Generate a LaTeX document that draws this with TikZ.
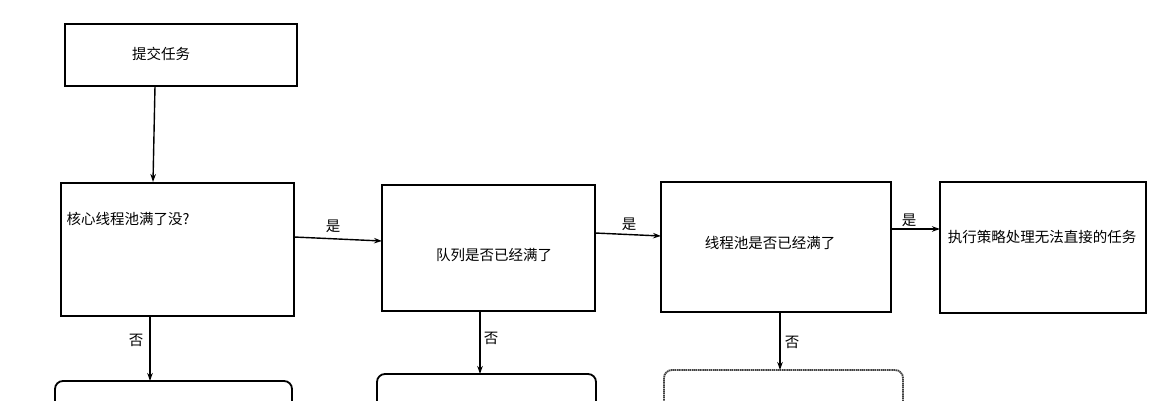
\documentclass[tikz,border=0pt]{standalone}
\usepackage{fontspec}
\setmainfont{Noto Sans CJK SC}
\usetikzlibrary{arrows.meta}
\begin{document}
\begin{tikzpicture}[x=1pt,y=-1pt,
  box/.style={draw,line width=1.8pt},
  rbox/.style={draw,line width=1.8pt,rounded corners=8pt},
  gbox/.style={draw=black!75,line width=1.8pt,dash pattern=on 1.5pt off 0.6pt,rounded corners=8pt},
  arr/.style={draw,line width=1.4pt,-{Stealth[length=8pt,width=5.5pt]}},
  txt/.style={font=\fontsize{14.5}{17}\selectfont,inner sep=0pt}]
\useasboundingbox (0,0) rectangle (1169,400);
\fill[white] (0,0) rectangle (1169,400);
\draw[box] (65,24) rectangle (297,86);
\draw[box] (61,183) rectangle (294,316);
\draw[box] (382,185) rectangle (595,311);
\draw[box] (661,182) rectangle (891,312);
\draw[box] (940,182) rectangle (1146,313);
\draw[rbox] (55,381) rectangle (292,430);
\draw[rbox] (377,374) rectangle (596,430);
\draw[gbox] (664,370) rectangle (903,430);
\node[txt] (t1) at (161,54) {提交任务};
\node[txt] (t2) at (128,219) {核心线程池满了没?};
\node[txt] (t3) at (494,255) {队列是否已经满了};
\node[txt] (t4) at (770,243) {线程池是否已经满了};
\node[txt] (t5) at (1042,237) {执行策略处理无法直接的任务};
\coordinate (a1) at (155,86); \coordinate (b1) at (153,182);
\draw[arr] (a1) -- (b1);
\coordinate (a2) at (294,237); \coordinate (b2) at (382,241);
\draw[arr] (a2) -- (b2);
\coordinate (a3) at (595,233); \coordinate (b3) at (661,236);
\draw[arr] (a3) -- (b3);
\coordinate (a4) at (891,229); \coordinate (b4) at (940,229);
\draw[arr] (a4) -- (b4);
\coordinate (a5) at (150,316); \coordinate (b5) at (150,381);
\draw[arr] (a5) -- (b5);
\coordinate (a6) at (480,311); \coordinate (b6) at (480,374);
\draw[arr] (a6) -- (b6);
\coordinate (a7) at (780,312); \coordinate (b7) at (780,370);
\draw[arr] (a7) -- (b7);
\node[txt] (l1) at (333,226) {是};
\node[txt] (l2) at (629,224) {是};
\node[txt] (l3) at (909,220) {是};
\node[txt] (l4) at (136,340) {否};
\node[txt] (l5) at (491,338) {否};
\node[txt] (l6) at (792,342) {否};
\end{tikzpicture}
\end{document}
